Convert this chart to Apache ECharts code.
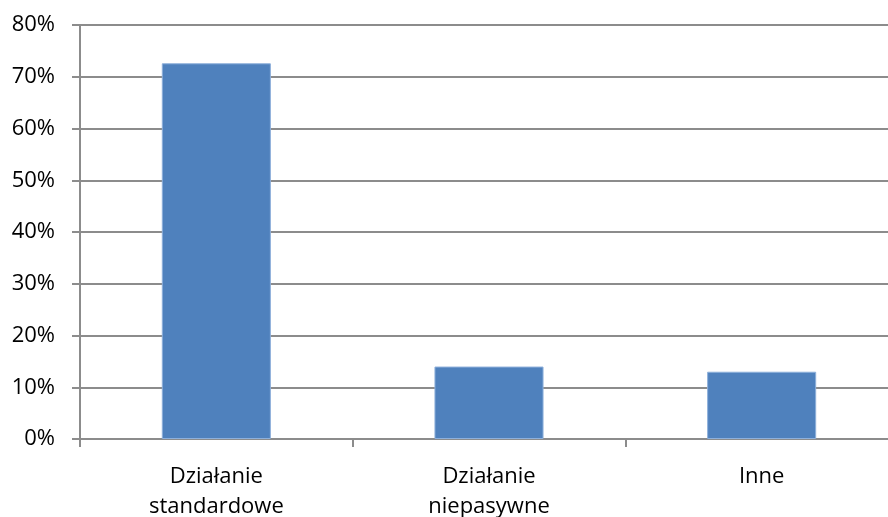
<!DOCTYPE html>
<html>
<head>
<meta charset="utf-8">
<script src="https://cdn.jsdelivr.net/npm/echarts@6/dist/echarts.min.js"></script>
<style>
  html, body { margin: 0; padding: 0; background: #fff; }
  #chart { width: 888px; height: 517px; }
</style>
</head>
<body>
<div id="chart"></div>
<script>
// dane
const categories = ['Działanie\nstandardowe', 'Działanie\nniepasywne', 'Inne'];
const values = [72.6, 14.0, 13.0];
const yTicks = [0, 10, 20, 30, 40, 50, 60, 70, 80];

const chart = echarts.init(document.getElementById('chart'));

const axisGray = '#8c8c8c';

chart.setOption({
    animation: false,
    // wykres jest przycięty z prawej strony, więc siatka wychodzi poza obszar
    grid: { left: 80, right: -10, top: 25, bottom: 78, outerBoundsMode: 'none', containLabel: false },
    xAxis: {
        type: 'category',
        data: categories,
        axisLine: { lineStyle: { color: axisGray, width: 2 } },
        axisTick: { show: true, length: 8, lineStyle: { color: axisGray, width: 2 } },
        axisLabel: {
            color: '#000',
            fontFamily: 'Open Sans',
            fontSize: 22,
            lineHeight: 30,
            margin: 23
        }
    },
    yAxis: {
        type: 'value',
        min: yTicks[0],
        max: yTicks[yTicks.length - 1],
        interval: 10,
        axisLine: { show: true, lineStyle: { color: axisGray, width: 2 } },
        axisTick: { show: true, length: 8, lineStyle: { color: axisGray, width: 2 } },
        splitLine: { lineStyle: { color: axisGray, width: 2 } },
        axisLabel: {
            color: '#000',
            fontFamily: 'Open Sans',
            fontSize: 22,
            margin: 25,
            formatter: v => v + '%'
        }
    },
    series: [{
        type: 'bar',
        data: values,
        barWidth: '40%',
        itemStyle: {
            color: '#4F81BD',
            borderColor: '#8EB0DB',
            borderWidth: 1
        }
    }]
});
</script>
</body>
</html>
